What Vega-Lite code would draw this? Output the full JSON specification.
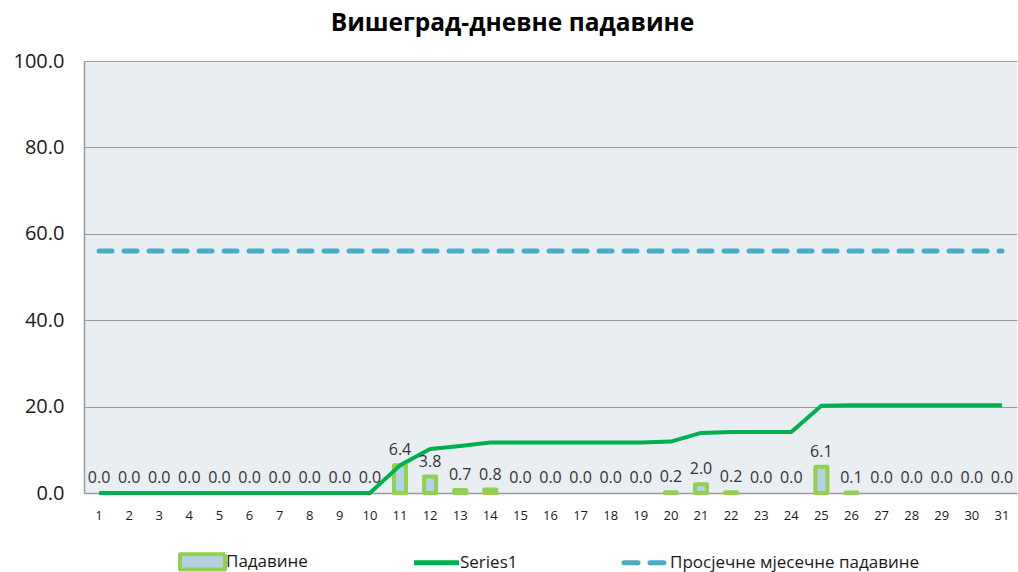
{
  "$schema": "https://vega.github.io/schema/vega-lite/v6.json",
  "autosize": {"type": "none"},
  "width": 933,
  "height": 432,
  "padding": {"left": 84, "top": 61, "right": 1, "bottom": 79},
  "background": "white",
  "title": {
    "text": "Вишеград-дневне падавине",
    "font": "Open Sans",
    "fontSize": 24.5,
    "fontWeight": "bold",
    "color": "#000000",
    "anchor": "middle",
    "dx": -38,
    "offset": 15
  },
  "config": {
    "view": {"fill": "#E8EEF2", "stroke": null},
    "font": "Open Sans"
  },
  "data": {
    "values": [
      {"day": 1, "rain": 0.0, "cum": 0.0, "avg": 56},
      {"day": 2, "rain": 0.0, "cum": 0.0, "avg": 56},
      {"day": 3, "rain": 0.0, "cum": 0.0, "avg": 56},
      {"day": 4, "rain": 0.0, "cum": 0.0, "avg": 56},
      {"day": 5, "rain": 0.0, "cum": 0.0, "avg": 56},
      {"day": 6, "rain": 0.0, "cum": 0.0, "avg": 56},
      {"day": 7, "rain": 0.0, "cum": 0.0, "avg": 56},
      {"day": 8, "rain": 0.0, "cum": 0.0, "avg": 56},
      {"day": 9, "rain": 0.0, "cum": 0.0, "avg": 56},
      {"day": 10, "rain": 0.0, "cum": 0.0, "avg": 56},
      {"day": 11, "rain": 6.4, "cum": 6.4, "avg": 56},
      {"day": 12, "rain": 3.8, "cum": 10.2, "avg": 56},
      {"day": 13, "rain": 0.7, "cum": 10.9, "avg": 56},
      {"day": 14, "rain": 0.8, "cum": 11.7, "avg": 56},
      {"day": 15, "rain": 0.0, "cum": 11.7, "avg": 56},
      {"day": 16, "rain": 0.0, "cum": 11.7, "avg": 56},
      {"day": 17, "rain": 0.0, "cum": 11.7, "avg": 56},
      {"day": 18, "rain": 0.0, "cum": 11.7, "avg": 56},
      {"day": 19, "rain": 0.0, "cum": 11.7, "avg": 56},
      {"day": 20, "rain": 0.2, "cum": 11.9, "avg": 56},
      {"day": 21, "rain": 2.0, "cum": 13.9, "avg": 56},
      {"day": 22, "rain": 0.2, "cum": 14.1, "avg": 56},
      {"day": 23, "rain": 0.0, "cum": 14.1, "avg": 56},
      {"day": 24, "rain": 0.0, "cum": 14.1, "avg": 56},
      {"day": 25, "rain": 6.1, "cum": 20.2, "avg": 56},
      {"day": 26, "rain": 0.1, "cum": 20.3, "avg": 56},
      {"day": 27, "rain": 0.0, "cum": 20.3, "avg": 56},
      {"day": 28, "rain": 0.0, "cum": 20.3, "avg": 56},
      {"day": 29, "rain": 0.0, "cum": 20.3, "avg": 56},
      {"day": 30, "rain": 0.0, "cum": 20.3, "avg": 56},
      {"day": 31, "rain": 0.0, "cum": 20.3, "avg": 56}
    ]
  },
  "encoding": {
    "x": {
      "field": "day",
      "type": "ordinal",
      "scale": {"paddingInner": 0, "paddingOuter": 0},
      "axis": {
        "title": null,
        "labelAngle": 0,
        "labelFontSize": 13,
        "labelColor": "#1a1a1a",
        "labelPadding": 16,
        "ticks": false,
        "domainColor": "#9a9a9a",
        "domainWidth": 1.5,
        "grid": false
      }
    },
    "color": {
      "datum": "Падавине",
      "scale": {
        "domain": ["Падавине", "Series1", "Просјечне мјесечне падавине"],
        "range": ["#92D050", "#00B050", "#4BACC6"]
      },
      "legend": {
        "title": null,
        "orient": "none",
        "legendX": 110,
        "legendY": 492,
        "direction": "horizontal",
        "labelFontSize": 17,
        "labelColor": "#1a1a1a",
        "labelOffset": 15,
        "columnPadding": 103,
        "symbolSize": 2025,
        "symbolType": "stroke",
        "symbolStrokeWidth": 4,
        "labelLimit": 400,
        "encode": {
          "symbols": {
            "update": {
              "shape": {"signal": "datum.value === 'Падавине' ? 'M-1,-0.34H1V0.34H-1Z' : 'stroke'"},
              "fill": {"signal": "datum.value === 'Падавине' ? '#B4D2E4' : 'transparent'"},
              "strokeDash": {"signal": "datum.value === 'Просјечне мјесечне падавине' ? [14, 12] : [1, 0]"},
              "strokeCap": {"signal": "datum.value === 'Просјечне мјесечне падавине' ? 'round' : 'butt'"},
              "strokeJoin": {"value": "round"},
              "strokeWidth": {"signal": "datum.value === 'Падавине' ? 4 : 5"}
            }
          }
        }
      }
    }
  },
  "layer": [
    {
      "transform": [{"filter": "datum.rain > 0"}],
      "mark": {
        "type": "bar",
        "width": {"band": 0.4},
        "filled": false,
        "fill": "#B4D2E4",
        "strokeWidth": 4,
        "strokeJoin": "round"
      },
      "encoding": {
        "y": {
          "field": "rain",
          "type": "quantitative",
          "scale": {"domain": [0, 100]},
          "axis": {
            "title": null,
            "values": [0, 20, 40, 60, 80, 100],
            "format": ".1f",
            "labelFontSize": 20,
            "labelColor": "#1a1a1a",
            "labelPadding": 20,
            "ticks": false,
            "domainColor": "#9a9a9a",
            "domainWidth": 1.5,
            "grid": true,
            "gridColor": "#9a9a9a",
            "gridWidth": 1
          }
        }
      }
    },
    {
      "mark": {"type": "line", "strokeWidth": 4, "strokeJoin": "round"},
      "encoding": {
        "y": {"field": "cum", "type": "quantitative"},
        "color": {"datum": "Series1"}
      }
    },
    {
      "mark": {
        "type": "line",
        "strokeWidth": 5,
        "strokeDash": [13, 12],
        "strokeCap": "round"
      },
      "encoding": {
        "y": {"field": "avg", "type": "quantitative"},
        "color": {"datum": "Просјечне мјесечне падавине"}
      }
    },
    {
      "mark": {
        "type": "text",
        "baseline": "bottom",
        "dy": -7,
        "fontSize": 16,
        "color": "#333333"
      },
      "encoding": {
        "y": {"field": "rain", "type": "quantitative"},
        "text": {"field": "rain", "type": "quantitative", "format": ".1f"},
        "color": {"value": "#333333"}
      }
    }
  ]
}
